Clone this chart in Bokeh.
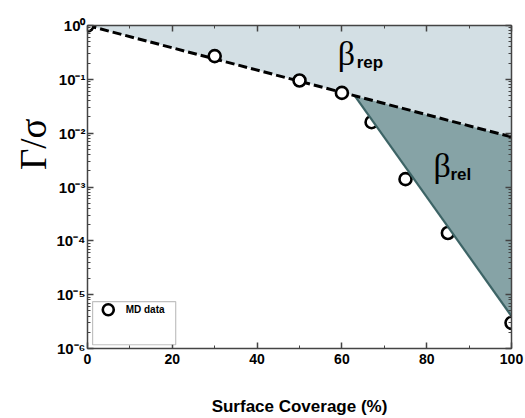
import numpy as np
from bokeh.plotting import figure
from bokeh.models import (Label, LinearAxis, LogAxis, Range1d, SingleIntervalTicker,
                          LogTicker, BoxAnnotation, CustomJSTickFormatter, Title)
from bokeh.embed import file_html
from bokeh.resources import INLINE

# ---- data ----
coverage = [0, 30, 50, 60, 67, 75, 85, 100]
gamma_sigma = [1.0, 0.27, 0.095, 0.056, 0.016, 0.0014, 0.00014, 3.0e-6]

# dashed fit (beta_rep): straight line on log axis
rep_x = [0, 100]
rep_y = [1.0, 0.0085]
# solid fit (beta_rel)
rel_x = [63, 100]
rel_y = [0.05, 4.0e-6]

LIGHT = "#d3dfe4"
DARK = "#86a3a6"
DARK_LINE = "#3d6466"
AXIS_COL = "#444444"

p = figure(width=525, height=418, output_backend="svg", toolbar_location=None,
           x_range=Range1d(0, 100), y_range=Range1d(1e-6, 1.0),
           y_axis_type="log", x_axis_location=None, y_axis_location=None,
           min_border_left=87, min_border_right=14, min_border_top=25,
           min_border_bottom=69)
p.outline_line_color = None
p.grid.visible = False
p.background_fill_color = "white"

blank = CustomJSTickFormatter(code="return ''")
pow10 = CustomJSTickFormatter(code="""
const sup = {'0':'\u2070','1':'\u00b9','2':'\u00b2','3':'\u00b3','4':'\u2074',
             '5':'\u2075','6':'\u2076','7':'\u2077','8':'\u2078','9':'\u2079','-':'\u207b'};
const e = Math.round(Math.log10(tick));
return '10' + String(e).split('').map(c => sup[c]).join('');
""")

# ---- axes ----
def style_axis(ax, labels=True):
    ax.axis_line_color = AXIS_COL
    ax.axis_line_width = 1.5
    ax.major_tick_line_color = AXIS_COL
    ax.minor_tick_line_color = AXIS_COL
    ax.major_tick_line_width = 1.5
    ax.minor_tick_line_width = 1
    ax.major_tick_in = 6
    ax.major_tick_out = 0
    ax.minor_tick_in = 3
    ax.minor_tick_out = 0
    if not labels:
        ax.formatter = blank
        ax.major_label_standoff = 0

xb = LinearAxis(ticker=SingleIntervalTicker(interval=20, num_minor_ticks=2))
style_axis(xb)
xb.major_label_text_font = "Liberation Sans"
xb.major_label_text_font_style = "bold"
xb.major_label_text_font_size = "14px"
xb.major_label_text_color = "black"
xb.major_label_standoff = 5
xb.axis_label = "Surface Coverage (%)"
xb.axis_label_text_font = "Liberation Sans"
xb.axis_label_text_font_style = "bold"
xb.axis_label_text_font_size = "17px"
xb.axis_label_text_color = "black"
xb.axis_label_standoff = 30
p.add_layout(xb, "below")

xt = LinearAxis(ticker=SingleIntervalTicker(interval=20, num_minor_ticks=2))
style_axis(xt, labels=False)
p.add_layout(xt, "above")

yl = LogAxis(ticker=LogTicker(num_minor_ticks=10))
style_axis(yl)
yl.formatter = pow10
yl.major_label_text_font = "Liberation Sans"
yl.major_label_text_font_style = "bold"
yl.major_label_text_font_size = "15px"
yl.major_label_text_color = "black"
yl.major_label_standoff = 2
p.add_layout(yl, "left")

yr = LogAxis(ticker=LogTicker(num_minor_ticks=10))
style_axis(yr, labels=False)
p.add_layout(yr, "right")

# y axis label as a left-side title (placed above the frame centre, as in the reference)
p.add_layout(Title(text="Γ/σ", align="right", offset=93, standoff=0,
                   text_font="Liberation Serif", text_font_size="37px",
                   text_font_style="normal", text_color="black"), "left")

def rep_at(x):
    return 10 ** (np.log10(rep_y[0]) + (np.log10(rep_y[1]) - np.log10(rep_y[0]))
                  * (x - rep_x[0]) / (rep_x[1] - rep_x[0]))

# ---- shaded regions ----
p.patch(x=[rep_x[0], rep_x[1], rep_x[1]], y=[rep_y[0], 1.0, rep_y[1]],
        fill_color=LIGHT, line_color=None)

# points that sit under the dark region
p.scatter(x=coverage[4:7], y=gamma_sigma[4:7], marker="circle", size=12,
          fill_color="white", line_color="black", line_width=2.6)

# dark region bounded by dashed line, solid line and right edge
p.patch(x=[rel_x[0], rep_x[1], rel_x[1]], y=[rep_at(rel_x[0]), rep_y[1], rel_y[1]],
        fill_color=DARK, line_color=None)
p.line(x=rel_x, y=rel_y, line_color=DARK_LINE, line_width=2.2)

# dashed fit line
p.line(x=rep_x, y=rep_y, line_color="black", line_width=3, line_dash="9 4")

# points on top of the dashed line
p.scatter(x=coverage[:4], y=gamma_sigma[:4], marker="circle", size=12,
          fill_color="white", line_color="black", line_width=2.6)
p.scatter(x=coverage[-1:], y=gamma_sigma[-1:], marker="circle", size=12,
          fill_alpha=0.0, line_color="black", line_width=2.6)

# beta labels
p.add_layout(Label(x=59, y=10 ** -0.52, text="β", text_align="left",
                   text_baseline="middle", text_font="Liberation Serif",
                   text_font_size="34px", text_color="black"))
p.add_layout(Label(x=59, y=10 ** -0.52, x_offset=19, y_offset=-9, text="rep",
                   text_align="left", text_baseline="middle",
                   text_font="Liberation Sans", text_font_style="bold",
                   text_font_size="17px", text_color="black"))
p.add_layout(Label(x=81.6, y=10 ** -2.6, text="β", text_align="left",
                   text_baseline="middle", text_font="Liberation Serif",
                   text_font_size="34px", text_color="black"))
p.add_layout(Label(x=81.6, y=10 ** -2.6, x_offset=17, y_offset=-9, text="rel",
                   text_align="left", text_baseline="middle",
                   text_font="Liberation Sans", text_font_style="bold",
                   text_font_size="17px", text_color="black"))

# ---- legend box ----
p.add_layout(BoxAnnotation(left=1.2, right=20.8, bottom=10 ** -5.93, top=10 ** -5.13,
                           fill_color="white", fill_alpha=1.0, line_color="#333333",
                           line_width=1.2))
leg = p.scatter(x=[4.9], y=[10 ** -5.28], marker="circle", size=11, fill_color="white",
                line_color="black", line_width=2.6)
leg.level = "overlay"
p.add_layout(Label(x=9, y=10 ** -5.28, text="MD data", text_align="left",
                   text_baseline="middle", text_font="Liberation Sans",
                   text_font_style="bold", text_font_size="10px", text_color="black"))

open("out.html", "w").write(file_html(p, INLINE))
